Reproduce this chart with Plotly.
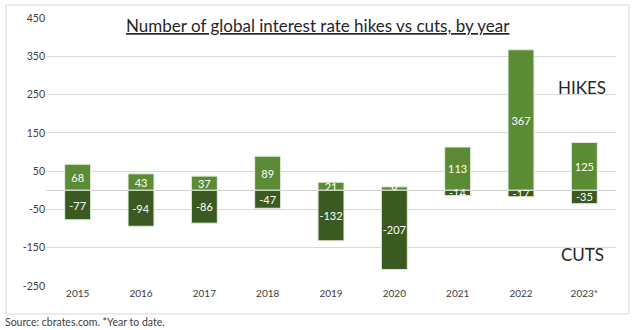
import plotly.graph_objects as go

# Global central bank rate moves per year
years = ["2015", "2016", "2017", "2018", "2019", "2020", "2021", "2022", "2023*"]
hikes = [68, 43, 37, 89, 21, 9, 113, 367, 125]
cuts = [-77, -94, -86, -47, -132, -207, -14, -17, -35]
y_ticks = [450, 350, 250, 150, 50, -50, -150, -250]

HIKE_COLOR = "#5b8c35"
CUT_COLOR = "#3a5a22"
FONT = "Lato"

fig = go.Figure()
for vals, color in ((hikes, HIKE_COLOR), (cuts, CUT_COLOR)):
    fig.add_trace(go.Bar(
        x=years, y=vals,
        marker=dict(color=color, line=dict(color="#e6eee0", width=1)),
        text=[str(v) for v in vals],
        textposition="inside",
        insidetextanchor="middle",
        textangle=0,
        constraintext="none",
        textfont=dict(family=FONT, size=11, color="white"),
        showlegend=False,
    ))

# Plot-area geometry in pixels, used for the outer frame
L, R, T, B = 46, 22, 18, 44
W, H = 638, 330
pw, ph = W - L - R, H - T - B

def px_x(px):
    return (px - L) / pw

def px_y(py):
    return (H - B - py) / ph

fig.update_layout(
    width=W, height=H,
    margin=dict(l=L, r=R, t=T, b=B),
    barmode="relative",
    bargap=0.59,
    plot_bgcolor="white",
    paper_bgcolor="white",
    font=dict(family=FONT, color="#595959"),
    xaxis=dict(
        showgrid=False, showline=False, ticks="",
        tickfont=dict(size=10, color="#404040"),
        zeroline=False,
    ),
    yaxis=dict(
        range=[-250, 450],
        tickvals=y_ticks,
        ticktext=[str(v) for v in y_ticks],
        showgrid=True, gridcolor="#d9d9d9", gridwidth=1,
        zeroline=True, zerolinecolor="#d0d0d0", zerolinewidth=1,
        showline=False, ticks="",
        tickfont=dict(size=10.5, color="#404040"),
    ),
    shapes=[dict(
        type="rect", xref="paper", yref="paper",
        x0=px_x(6), x1=px_x(629), y0=px_y(314), y1=px_y(5),
        line=dict(color="#d9d9d9", width=1), fillcolor="rgba(0,0,0,0)",
        layer="below",
    )],
    annotations=[
        dict(text="<u>Number of global interest rate hikes vs cuts, by year</u>",
             xref="paper", yref="paper", x=px_x(318), y=px_y(25),
             xanchor="center", yanchor="middle", showarrow=False,
             font=dict(family=FONT, size=17, color="#262626")),
        dict(text="HIKES", xref="paper", yref="paper",
             x=px_x(582), y=px_y(87), xanchor="center", yanchor="middle",
             showarrow=False, font=dict(family=FONT, size=17, color="#262626")),
        dict(text="CUTS", xref="paper", yref="paper",
             x=px_x(582), y=px_y(255), xanchor="center", yanchor="middle",
             showarrow=False, font=dict(family=FONT, size=17, color="#262626")),
        dict(text="Source: cbrates.com. *Year to date.", xref="paper", yref="paper",
             x=px_x(3), y=px_y(322), xanchor="left", yanchor="middle",
             showarrow=False, font=dict(family=FONT, size=10.5, color="#404040")),
    ],
)

fig.write_html("out.html")
